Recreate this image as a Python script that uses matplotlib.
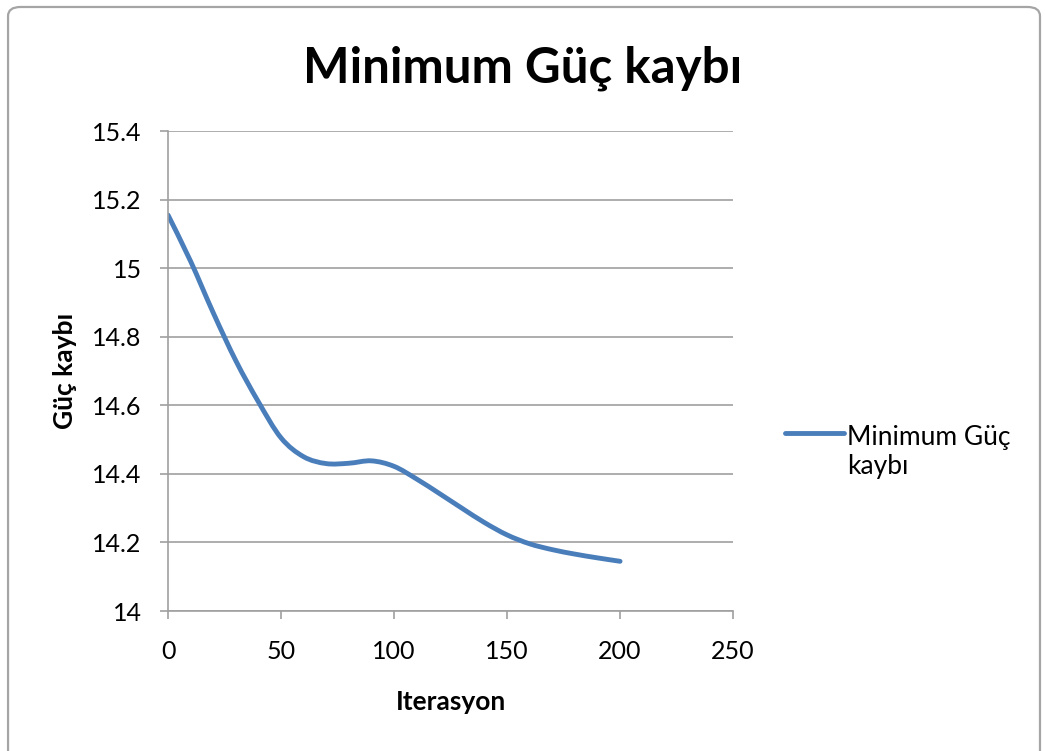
import matplotlib
matplotlib.use("Agg")
import matplotlib.pyplot as plt
from matplotlib.patches import FancyBboxPatch, PathPatch
from matplotlib.path import Path
from matplotlib.lines import Line2D
from matplotlib.legend_handler import HandlerLine2D
from matplotlib.ticker import FuncFormatter

iterasyon = [0, 10, 20, 30, 40, 50, 60, 70, 80, 90, 100,
             110, 120, 130, 140, 150, 160, 170, 180, 190, 200]
guc_kaybi = [15.155, 15.02, 14.87, 14.73, 14.61, 14.505, 14.45, 14.43, 14.431, 14.438, 14.422,
             14.385, 14.343, 14.30, 14.258, 14.222, 14.196, 14.179, 14.166, 14.155, 14.145]

plt.rcParams['font.family'] = ['Lato', 'DejaVu Sans']
mavi = "#4A7EBB"
lfs = 19  # legend font size

def smooth_path(xs, ys):
    # excel-like smoothed line: catmull-rom segments as cubic bezier
    n = len(xs)
    verts = [(xs[0], ys[0])]
    codes = [Path.MOVETO]
    for i in range(n - 1):
        i0, i3 = max(i - 1, 0), min(i + 2, n - 1)
        c1 = (xs[i] + (xs[i + 1] - xs[i0]) / 6.0, ys[i] + (ys[i + 1] - ys[i0]) / 6.0)
        c2 = (xs[i + 1] - (xs[i3] - xs[i]) / 6.0, ys[i + 1] - (ys[i3] - ys[i]) / 6.0)
        verts += [c1, c2, (xs[i + 1], ys[i + 1])]
        codes += [Path.CURVE4] * 3
    return Path(verts, codes)

class FirstLineHandler(HandlerLine2D):
    # put the legend line next to the first text line (excel style)
    def create_artists(self, legend, orig_handle, xdescent, ydescent, width, height, fontsize, trans):
        shift = 1.2 * fontsize / 2.0 + 3
        return super().create_artists(legend, orig_handle, xdescent, ydescent - 2 * shift,
                                      width, height, fontsize, trans)

fig = plt.figure(figsize=(10.45, 7.51), dpi=100)
# rounded chart border
frame = FancyBboxPatch((0.0077, -0.03), 0.9875, 1.0207, boxstyle="round,pad=0,rounding_size=0.012",
                       transform=fig.transFigure, facecolor="white", edgecolor="#a5a5a5", lw=1.6,
                       zorder=-10)
fig.patches.append(frame)

ax = fig.add_axes([0.1608, 0.1864, 0.5407, 0.6391])
ax.patch.set_alpha(0)
ax.add_patch(PathPatch(smooth_path(iterasyon, guc_kaybi), fill=False, edgecolor=mavi,
                       lw=3.5, capstyle="round", joinstyle="round"))

ax.set_xlim(0, 250)
ax.set_ylim(14, 15.4)
ax.set_xticks(range(0, 251, 50))
ax.set_yticks([14 + 0.2 * i for i in range(8)])
ax.yaxis.set_major_formatter(FuncFormatter(lambda v, p: "%g" % round(v, 1)))
ax.grid(True, axis="y", color="#a0a0a0", lw=1.2)
ax.set_axisbelow(True)
for s in ["top", "right"]:
    ax.spines[s].set_visible(False)
for s in ["left", "bottom"]:
    ax.spines[s].set_color("#a0a0a0")
    ax.spines[s].set_linewidth(1.2)
ax.tick_params(axis="both", direction="out", length=6, width=1.2, color="#a0a0a0",
               labelsize=18)
ax.tick_params(axis="x", pad=15)
ax.tick_params(axis="y", pad=13)

ax.set_xlabel("Iterasyon", fontsize=19, fontweight="bold", labelpad=19)
ax.set_ylabel("Güç kaybı", fontsize=19, fontweight="bold", labelpad=11)
fig.suptitle("Minimum Güç kaybı", fontsize=35.5, fontweight="bold", y=0.94)

h = Line2D([], [], color=mavi, lw=3.5, solid_capstyle="round")
fig.legend(handles=[h], labels=["Minimum Güç\nkaybı"], loc="center left",
           bbox_to_anchor=(0.751, 0.398), frameon=False, fontsize=lfs,
           handlelength=2.25, handletextpad=0.12, borderpad=0, borderaxespad=0,
           handler_map={Line2D: FirstLineHandler()})

fig.savefig("out.png", dpi=100)
